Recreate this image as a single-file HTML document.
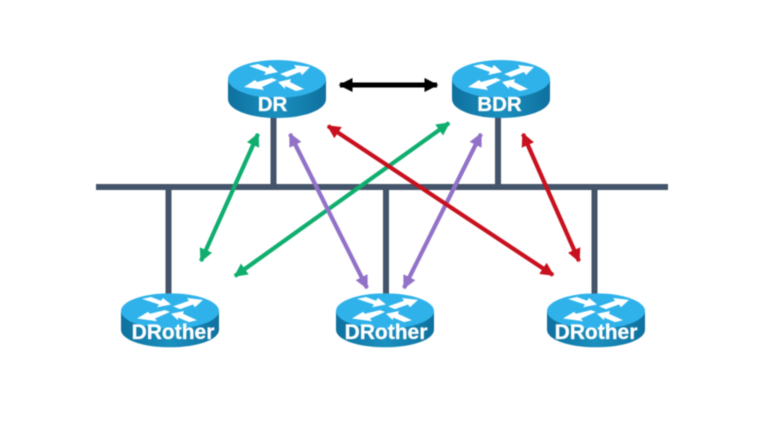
<!DOCTYPE html>
<html>
<head>
<meta charset="utf-8">
<style>
html,body{margin:0;padding:0;background:#fff;width:781px;height:429px;overflow:hidden}
svg{display:block;filter:blur(.45px)}
text{font-family:"Liberation Sans",sans-serif;font-weight:bold;fill:#fff;stroke:#fff;stroke-width:.3;text-anchor:middle}
</style>
</head>
<body>
<svg width="781" height="429" viewBox="0 0 781 429" xmlns="http://www.w3.org/2000/svg">
<defs>
<linearGradient id="side" x1="0" x2="1" y1="0" y2="0">
<stop offset="0" stop-color="#0f709e"/><stop offset=".5" stop-color="#1a90bf"/><stop offset="1" stop-color="#0f709e"/>
</linearGradient>
<g id="router">
<path d="M-49 0V20C-49 31 -27 39 0 39S49 31 49 20V0Z" fill="url(#side)"/>
<ellipse cx="0" cy="0" rx="49" ry="19" fill="#2fb2ea"/>
<g fill="#fff">
<polygon points="-28,-13 -19,-15 -9,-11 -7,-14 1,-7 -13,-4 -11,-7"/>
<polygon points="33,-12 17,-14 19,-11 3,-5 10,-2 23,-7 25,-4"/>
<polygon points="-33,8 -22,1 -20,3 -5,-1 0,1 -15,8 -13,11"/>
<polygon points="1,3 14,0 13,3 27,10 19,12 8,7 8,10"/>
</g>
</g>
<marker id="mg" viewBox="0 0 10 10" refX="9" refY="5" markerWidth="3.200" markerHeight="3.200" orient="auto-start-reverse"><path d="M0 0L10 5L0 10Z" fill="#0fae6e"/></marker>
<marker id="mp" viewBox="0 0 10 10" refX="9" refY="5" markerWidth="3.200" markerHeight="3.200" orient="auto-start-reverse"><path d="M0 0L10 5L0 10Z" fill="#9272c8"/></marker>
<marker id="mr" viewBox="0 0 10 10" refX="9" refY="5" markerWidth="3.200" markerHeight="3.200" orient="auto-start-reverse"><path d="M0 0L10 5L0 10Z" fill="#c8101e"/></marker>
<marker id="mk" viewBox="0 0 10 10" refX="9" refY="5" markerWidth="2.800" markerHeight="2.800" orient="auto-start-reverse"><path d="M0 0L10 5L0 10Z" fill="#000"/></marker>
</defs>

<g stroke="#44546a" fill="none">
<path d="M96 187H668" stroke-width="6"/>
<path d="M273.500 116V187M498 116V187M168.500 187V295M386 187V295M594.500 187V295" stroke-width="6"/>
</g>

<g fill="none" stroke-width="4.200">
<line x1="258" y1="134" x2="201" y2="261" stroke="#0fae6e" marker-start="url(#mg)" marker-end="url(#mg)"/>
<line x1="449" y1="123" x2="235" y2="276" stroke="#0fae6e" marker-start="url(#mg)" marker-end="url(#mg)"/>
<line x1="290" y1="134" x2="367" y2="288" stroke="#9272c8" marker-start="url(#mp)" marker-end="url(#mp)"/>
<line x1="481" y1="134" x2="404" y2="288" stroke="#9272c8" marker-start="url(#mp)" marker-end="url(#mp)"/>
<line x1="328" y1="126" x2="553" y2="275" stroke="#c8101e" marker-start="url(#mr)" marker-end="url(#mr)"/>
<line x1="523" y1="134" x2="579" y2="261" stroke="#c8101e" marker-start="url(#mr)" marker-end="url(#mr)"/>
<line x1="340" y1="85" x2="437" y2="85" stroke="#000" stroke-width="5" marker-start="url(#mk)" marker-end="url(#mk)"/>
</g>

<use href="#router" transform="translate(277,79)"/>
<use href="#router" transform="translate(501,79)"/>
<use href="#router" transform="translate(170,311) scale(1,.93)"/>
<use href="#router" transform="translate(385,311) scale(1,.93)"/>
<use href="#router" transform="translate(596,311) scale(1,.93)"/>

<text x="272.500" y="111" font-size="20.500">DR</text>
<text x="499.500" y="111" font-size="20.500">BDR</text>
<text x="173" y="339" font-size="21">DRother</text>
<text x="386" y="339" font-size="21">DRother</text>
<text x="596" y="339" font-size="21">DRother</text>
</svg>
</body>
</html>
